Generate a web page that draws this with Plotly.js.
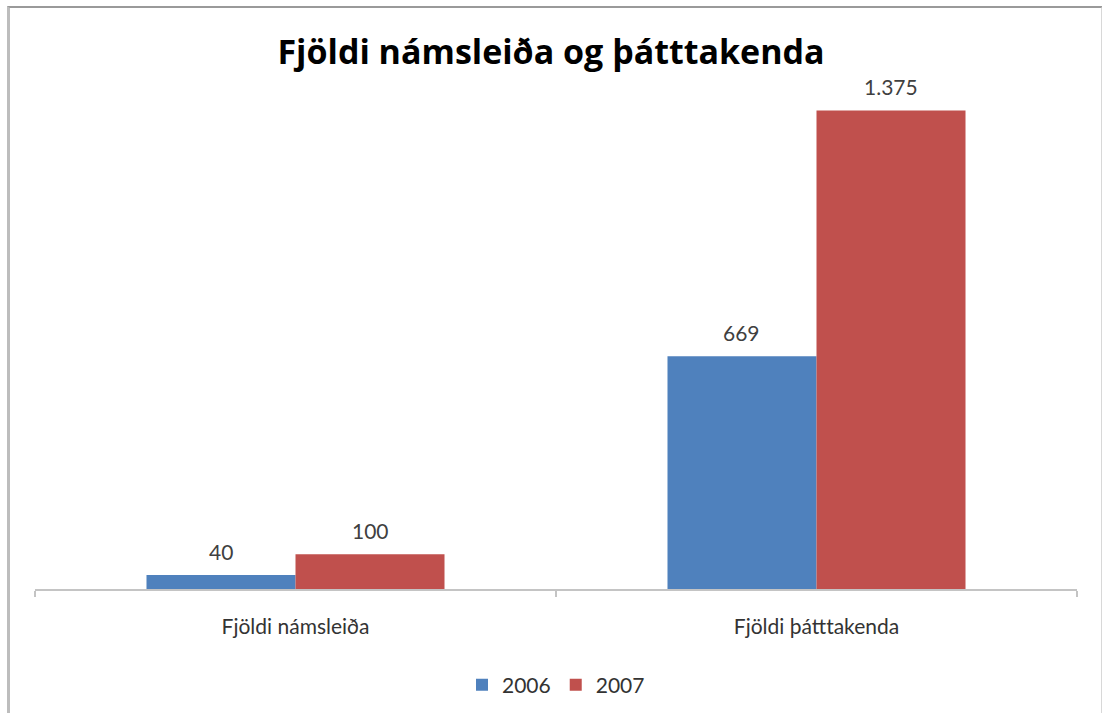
<!DOCTYPE html>
<html>
<head>
<meta charset="utf-8">
<script src="https://cdn.plot.ly/plotly-3.0.1.min.js"></script>
<style>
  html, body { margin: 0; padding: 0; background: #fff; }
  #frame { position: absolute; left: 7px; top: 6px; width: 1091px; height: 720px;
           border-left: 3px solid #bdbdbd; border-top: 2px solid #9a9a9a; border-right: 2px solid #d8d8d8;
           pointer-events: none; z-index: 10; }
  #chart { position: absolute; left: 0; top: 0; width: 1102px; height: 713px; }
</style>
</head>
<body>
<div id="chart"></div>
<div id="frame"></div>
<script>
const categories = ["Fjöldi námsleiða", "Fjöldi þátttakenda"];
const seriesNames = ["2006", "2007"];
const values2006 = [40, 669];
const values2007 = [100, 1375];
const labels2006 = ["40", "669"];
const labels2007 = ["100", "1.375"];
const colors = ["#4F81BD", "#C0504D"];

const font = "Lato, 'Open Sans', sans-serif";

const plotLeft = 35, plotRight = 25;
const bargap = 0.428;
const plotW = 1102 - plotLeft - plotRight;
const barW = plotW / categories.length * (1 - bargap) / seriesNames.length;

const traces = [
  { type: "bar", name: seriesNames[0], x: categories, y: values2006,
    marker: { color: colors[0] } },
  { type: "bar", name: seriesNames[1], x: categories, y: values2007,
    marker: { color: colors[1] } }
];

const annotations = [];
[[values2006, labels2006, -1], [values2007, labels2007, 1]].forEach(([vals, labs, side]) => {
  categories.forEach((c, j) => {
    annotations.push({ x: c, y: vals[j], xref: "x", yref: "y", text: labs[j], showarrow: false,
      xanchor: "center", yanchor: "middle", xshift: side * barW / 2, yshift: 24,
      font: { family: font, size: 21, color: "#404040" } });
  });
});

const layout = {
  width: 1102, height: 713,
  margin: { l: plotLeft, r: plotRight, t: 66.5, b: 124 },
  paper_bgcolor: "#ffffff", plot_bgcolor: "#ffffff",
  title: { text: "<b>Fjöldi námsleiða og þátttakenda</b>", x: 0.5, xanchor: "center",
           y: 1 - 52/713, yanchor: "middle",
           font: { family: "'Open Sans', sans-serif", size: 34, color: "#000" } },
  barmode: "group", bargap: bargap, bargroupgap: 0,
  showlegend: true,
  legend: { orientation: "h", x: 0.5, xanchor: "center", xref: "paper",
            y: 1 - 685/713, yanchor: "middle", yref: "container",
            font: { family: font, size: 21, color: "#333" }, traceorder: "normal",
            itemwidth: 30 },
  annotations: annotations,
  xaxis: { showline: true, linecolor: "#c4c4c4", linewidth: 1.5, ticks: "outside",
           tickson: "boundaries", ticklen: 6, tickcolor: "#c4c4c4", tickwidth: 1.5,
           showgrid: false, zeroline: false, automargin: false, ticklabelstandoff: 18,
           tickfont: { family: font, size: 21, color: "#333" } },
  yaxis: { range: [0, 1500], visible: false, showgrid: false, zeroline: false, automargin: false },
  font: { family: font }
};

Plotly.newPlot("chart", traces, layout, { displayModeBar: false, staticPlot: true });
</script>
</body>
</html>
